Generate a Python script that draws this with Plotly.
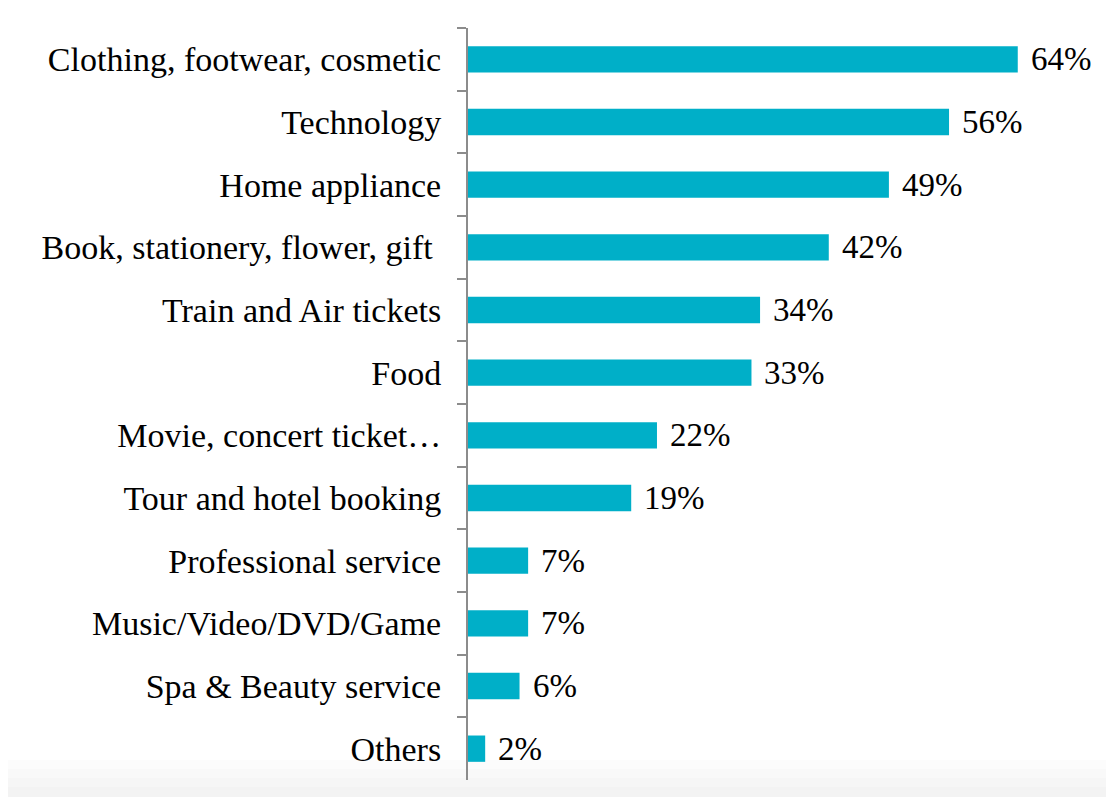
import plotly.graph_objects as go

categories = ["Clothing, footwear, cosmetic", "Technology", "Home appliance",
              "Book, stationery, flower, gift\u00a0", "Train and Air tickets", "Food",
              "Movie, concert ticket…", "Tour and hotel booking", "Professional service",
              "Music/Video/DVD/Game", "Spa & Beauty service", "Others"]
values = [64, 56, 49, 42, 34, 33, 22, 19, 7, 7, 6, 2]
value_labels = [f"{v}%" for v in values]

# page is offset by the default 8px body margin
W, H = 1106, 789
L, T, B = 460, 20, 17
pw = 632
R = W - L - pw
ph = H - T - B
px_per_unit = 8.59
FONT = "Liberation Serif"

fig = go.Figure()
fig.add_trace(go.Bar(
    x=values, y=categories, orientation="h",
    marker=dict(color="#00afc8", line=dict(width=0)),
    hoverinfo="skip",
))

for v, c, lab in zip(values, categories, value_labels):
    fig.add_annotation(x=v, y=c, text=lab, showarrow=False, xanchor="left",
                       xshift=11, font=dict(family=FONT, size=33, color="#000"))

def px2x(p):
    return (p - L) / pw

def py2y(p):
    return 1 - (p - T) / ph

shapes = []
grays = ["#fcfcfc", "#f9f9f9", "#f6f6f6", "#f3f3f3"]
for i, g in enumerate(grays):
    y_top = 752 + i * 9
    shapes.append(dict(type="rect", xref="paper", yref="paper", x0=px2x(0), x1=px2x(W + 5),
                       y0=py2y(H + 5), y1=py2y(y_top), fillcolor=g, line=dict(width=0), layer="below"))

fig.update_layout(
    width=W, height=H,
    margin=dict(l=L, r=R, t=T, b=B),
    paper_bgcolor="white", plot_bgcolor="rgba(0,0,0,0)",
    showlegend=False,
    bargap=0.58,
    shapes=shapes,
    font=dict(family=FONT, size=34, color="#000"),
)
fig.update_xaxes(range=[0, pw / px_per_unit], visible=False, fixedrange=True)
fig.update_yaxes(autorange="reversed", type="category", showline=True, linecolor="#8c8c8c",
                 linewidth=2, ticks="outside", tickson="boundaries", ticklen=9,
                 tickcolor="#8c8c8c", tickwidth=2, ticklabelstandoff=18,
                 showgrid=False, zeroline=False, fixedrange=True,
                 tickfont=dict(family=FONT, size=34, color="#000"))

fig.write_html("out.html")
